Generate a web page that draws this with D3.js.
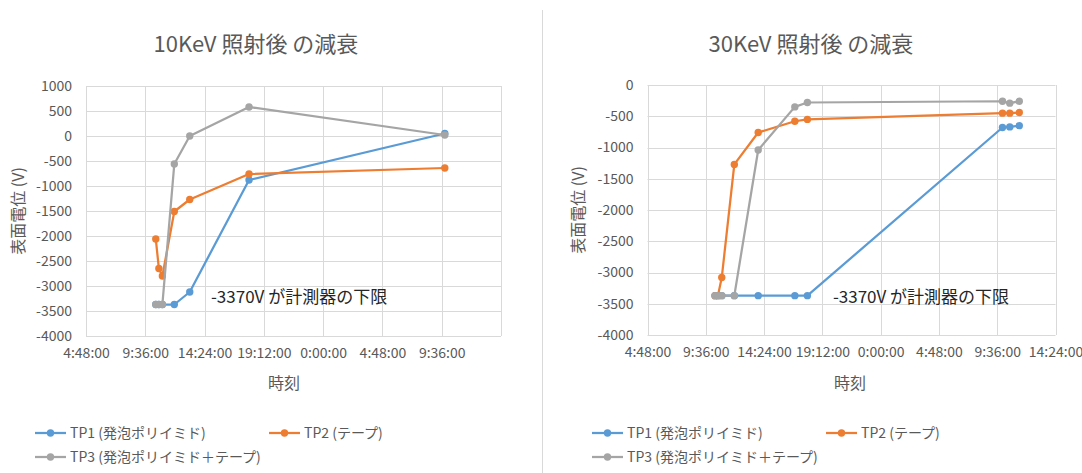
<!DOCTYPE html>
<html>
<head>
<meta charset="utf-8">
<script src="https://cdn.jsdelivr.net/npm/d3@7"></script>
<style>
  body { margin: 0; background: #fff; }
  text { font-family: "Noto Sans CJK JP", "Noto Sans", sans-serif; }
</style>
</head>
<body>
<svg id="chart" width="1082" height="473"></svg>
<script>
// ---- series ----
const seriesNames = ["TP1 (発泡ポリイミド)", "TP2 (テープ)", "TP3 (発泡ポリイミド＋テープ)"];
const seriesColors = ["#5B9BD5", "#ED7D31", "#A5A5A5"];

// 10 keV: measurement times and surface potential (V)
const times10 = [
  "2000-01-01 10:27", "2000-01-01 10:42", "2000-01-01 10:59", "2000-01-01 11:57",
  "2000-01-01 13:12", "2000-01-01 18:00", "2000-01-02 09:51"
];
const tp1_10 = [-3370, -3370, -3370, -3370, -3120, -880, 50];
const tp2_10 = [-2060, -2650, -2800, -1510, -1270, -760, -640];
const tp3_10 = [-3370, -3370, -3370, -560, 0, 580, 20];

// 30 keV: measurement times and surface potential (V)
const times30 = [
  "2000-01-01 10:22", "2000-01-01 10:36", "2000-01-01 10:55", "2000-01-01 11:57",
  "2000-01-01 13:55", "2000-01-01 16:56", "2000-01-01 17:58",
  "2000-01-02 10:02", "2000-01-02 10:38", "2000-01-02 11:25"
];
const tp1_30 = [-3370, -3370, -3370, -3370, -3370, -3370, -3370, -680, -670, -650];
const tp2_30 = [-3370, -3370, -3080, -1270, -760, -580, -550, -450, -450, -440];
const tp3_30 = [-3370, -3370, -3370, -3370, -1040, -350, -280, -260, -290, -260];

// ---- axes ----
const xDomain = ["2000-01-01 04:48", "2000-01-02 14:24"];
const xTickLabels10 = ["4:48:00", "9:36:00", "14:24:00", "19:12:00", "0:00:00", "4:48:00", "9:36:00", ""];
const xTickLabels30 = ["4:48:00", "9:36:00", "14:24:00", "19:12:00", "0:00:00", "4:48:00", "9:36:00", "14:24:00"];
const yTicks10 = [1000, 500, 0, -500, -1000, -1500, -2000, -2500, -3000, -3500, -4000];
const yTicks30 = [0, -500, -1000, -1500, -2000, -2500, -3000, -3500, -4000];

const titles = ["10KeV 照射後 の減衰", "30KeV 照射後 の減衰"];
const yAxisTitle = "表面電位 (V)";
const xAxisTitle = "時刻";
const floorNote = "-3370V が計測器の下限";

const parseTime = d3.timeParse("%Y-%m-%d %H:%M");
const svg = d3.select("#chart");

// panel separator
svg.append("line")
  .attr("x1", 542.5).attr("x2", 542.5).attr("y1", 10).attr("y2", 473)
  .attr("stroke", "#d9d9d9").attr("stroke-width", 1);

function drawPanel(cfg) {
  const g = svg.append("g");
  const start = parseTime(xDomain[0]), end = parseTime(xDomain[1]);
  const x = d3.scaleTime().domain([start, end]).range([cfg.left, cfg.right]);
  const y = d3.scaleLinear().domain([cfg.yTicks[cfg.yTicks.length - 1], cfg.yTicks[0]])
    .range([cfg.bottom, cfg.top]);

  const step = (end - start) / (cfg.xLabels.length - 1);
  const xTickVals = cfg.xLabels.map((_, i) => new Date(+start + i * step));

  // gridlines
  g.append("g").selectAll("line").data(cfg.yTicks).join("line")
    .attr("x1", cfg.left).attr("x2", cfg.right)
    .attr("y1", d => Math.round(y(d)) + 0.5).attr("y2", d => Math.round(y(d)) + 0.5)
    .attr("stroke", "#d9d9d9").attr("stroke-width", 1);
  g.append("g").selectAll("line").data(xTickVals).join("line")
    .attr("x1", d => Math.round(x(d)) + 0.5).attr("x2", d => Math.round(x(d)) + 0.5)
    .attr("y1", cfg.top).attr("y2", cfg.bottom)
    .attr("stroke", "#d9d9d9").attr("stroke-width", 1);

  // x axis labels
  const xAxis = d3.axisBottom(x).tickValues(xTickVals)
    .tickFormat((d, i) => cfg.xLabels[i]).tickSize(0).tickPadding(0);
  const xa = g.append("g").attr("transform", `translate(0,${cfg.bottom + 12})`).call(xAxis);
  xa.select(".domain").remove();
  xa.selectAll("text").attr("fill", "#595959").style("font-size", "14px")
    .attr("dy", "0.71em");

  // y axis labels
  const yAxis = d3.axisLeft(y).tickValues(cfg.yTicks).tickFormat(d3.format("d"))
    .tickSize(0).tickPadding(0);
  const ya = g.append("g").attr("transform", `translate(${cfg.left - 14},0)`).call(yAxis);
  ya.select(".domain").remove();
  ya.selectAll("text").attr("fill", "#595959").style("font-size", "14px")
    .text(d => d3.format("d")(d).replace("−", "-"));

  // titles
  g.append("text").attr("x", cfg.titleX).attr("y", 52).attr("text-anchor", "middle")
    .attr("fill", "#595959").style("font-size", "22px").text(cfg.title);
  g.append("text").attr("transform", `translate(${cfg.yTitleX},${(cfg.top + cfg.bottom) / 2 - 0}) rotate(-90)`)
    .attr("text-anchor", "middle").attr("fill", "#595959").style("font-size", "16px")
    .text(yAxisTitle);
  g.append("text").attr("x", cfg.xTitleX).attr("y", 389).attr("text-anchor", "middle")
    .attr("fill", "#595959").style("font-size", "16px").text(xAxisTitle);

  // series
  const times = cfg.times.map(parseTime);
  const line = d3.line().x(d => x(d.t)).y(d => y(d.v));
  cfg.series.forEach((vals, s) => {
    const pts = vals.map((v, i) => ({ t: times[i], v }));
    g.append("path").datum(pts).attr("d", line)
      .attr("fill", "none").attr("stroke", seriesColors[s])
      .attr("stroke-width", 2.25).attr("stroke-linejoin", "round");
    g.append("g").selectAll("circle").data(pts).join("circle")
      .attr("cx", d => x(d.t)).attr("cy", d => y(d.v)).attr("r", 3.7)
      .attr("fill", seriesColors[s]);
  });

  // measurement floor note
  g.append("text").attr("x", x(parseTime(cfg.note.t))).attr("y", y(cfg.note.v))
    .attr("dy", "0.35em").attr("fill", "#262626").style("font-size", "17px")
    .text(floorNote);

  // legend
  const legendPos = [
    [cfg.legendX, 433], [cfg.legendX + 234, 433], [cfg.legendX, 457]
  ];
  seriesNames.forEach((name, s) => {
    const [lx, ly] = legendPos[s];
    const lg = g.append("g").attr("transform", `translate(${lx},${ly})`);
    lg.append("line").attr("x1", 0).attr("x2", 31).attr("y1", 0).attr("y2", 0)
      .attr("stroke", seriesColors[s]).attr("stroke-width", 2.25);
    lg.append("circle").attr("cx", 15.5).attr("cy", 0).attr("r", 3.7).attr("fill", seriesColors[s]);
    lg.append("text").attr("x", 35).attr("y", 0).attr("dy", "0.35em")
      .attr("fill", "#595959").style("font-size", "14px").text(name);
  });
}

drawPanel({
  left: 86, right: 501, top: 86, bottom: 336,
  yTicks: yTicks10, xLabels: xTickLabels10,
  times: times10, series: [tp1_10, tp2_10, tp3_10],
  title: titles[0], titleX: 256, yTitleX: 24, xTitleX: 284,
  note: { t: "2000-01-01 14:55", v: -3220 }, legendX: 35
});

drawPanel({
  left: 647.5, right: 1055.5, top: 85, bottom: 335,
  yTicks: yTicks30, xLabels: xTickLabels30,
  times: times30, series: [tp1_30, tp2_30, tp3_30],
  title: titles[1], titleX: 811, yTitleX: 584, xTitleX: 850,
  note: { t: "2000-01-01 20:04", v: -3390 }, legendX: 592
});
</script>
</body>
</html>
